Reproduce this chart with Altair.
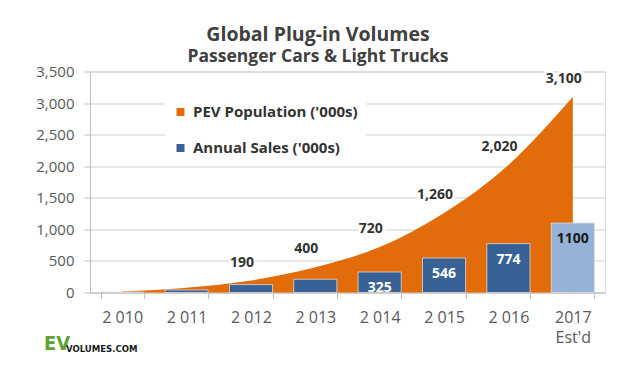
import altair as alt
import pandas as pd

# ---- data ----
years = ["2 010", "2 011", "2 012", "2 013", "2 014", "2 015", "2 016", "2017\nEst'd"]
pev_population = [15, 75, 190, 400, 720, 1260, 2020, 3100]
annual_sales = [7, 40, 125, 210, 325, 546, 774, 1100]
estimated = [False, False, False, False, False, False, False, True]

pev_name = "PEV Population ('000s)"
sales_name = "Annual Sales ('000s)"

df = pd.DataFrame({
    "year": years,
    "pev": pev_population,
    "sales": annual_sales,
    "est": estimated,
    "pev_series": [pev_name] * len(years),
    "sales_series": [sales_name] * len(years),
})

ORANGE = "#E36C0A"
BLUE = "#386196"
LIGHT_BLUE = "#95B3D7"
FONT = "Open Sans"
LOGO_FONT = "DejaVu Sans Condensed, Liberation Sans, sans-serif"

color_scale = alt.Scale(domain=[pev_name, sales_name], range=[ORANGE, BLUE])
legend = alt.Legend(
    orient="none", legendX=75, legendY=25, title=None,
    symbolType="square", symbolSize=64, symbolStrokeWidth=0,
    labelFont=FONT, labelFontSize=15, labelFontWeight="bold", labelColor="#333333",
    fillColor="white", padding=8, rowPadding=20, labelOffset=5, labelLimit=400,
)

x_axis = alt.Axis(
    title=None, labelAngle=0, tickBand="extent", grid=False,
    labelFont=FONT, labelFontSize=16, labelColor="#595959", labelPadding=11,
    labelExpr="split(datum.label, '\\n')", labelLineHeight=19.5,
    tickSize=6, tickColor="#bfbfbf", domainColor="#bfbfbf",
)
x_scale = alt.Scale(paddingInner=0.33, paddingOuter=0.165)
y_axis = alt.Axis(
    title=None, values=list(range(0, 3501, 500)), format=",.0f",
    labelFont=FONT, labelFontSize=15, labelColor="#595959", labelPadding=10,
    tickSize=6, tickColor="#bfbfbf", domainColor="#bfbfbf", gridColor="#d0d0d0",
)
y_scale = alt.Scale(domain=[0, 3500])

base = alt.Chart(df)

area = base.mark_area(interpolate="monotone").encode(
    x=alt.X("year:N", sort=years, scale=x_scale, axis=x_axis, bandPosition=0.5),
    y=alt.Y("pev:Q", scale=y_scale, axis=y_axis),
    color=alt.Color("pev_series:N", scale=color_scale, legend=legend),
)

bars = base.mark_bar(stroke="#dcdcdc", strokeWidth=0.8).encode(
    x=alt.X("year:N", sort=years, scale=x_scale, axis=x_axis),
    y=alt.Y("sales:Q", scale=y_scale, axis=y_axis),
    color=alt.condition("datum.est", alt.value(LIGHT_BLUE),
                        alt.Color("sales_series:N", scale=color_scale, legend=legend)),
)

pop_text_kwargs = dict(dx=-9, dy=-18, fontSize=14, fontWeight="bold", font=FONT,
                       baseline="middle", align="center")
pop_enc = dict(
    x=alt.X("year:N", sort=years, scale=x_scale, axis=x_axis, bandPosition=0.5),
    y=alt.Y("pev:Q", scale=y_scale, axis=y_axis),
    text=alt.Text("pev:Q", format=",.0f"),
)
pop_halo = base.transform_filter("datum.pev >= 150").mark_text(
    stroke="white", strokeWidth=6, strokeJoin="round", color="white", **pop_text_kwargs
).encode(**pop_enc)
pop_labels = base.transform_filter("datum.pev >= 150").mark_text(
    color="#333333", **pop_text_kwargs
).encode(**pop_enc)

bar_labels = base.transform_filter("datum.sales >= 300").mark_text(
    dy=16, fontSize=14, fontWeight="bold", font=FONT, baseline="middle", align="center"
).encode(
    x=alt.X("year:N", sort=years, scale=x_scale, axis=x_axis),
    y=alt.Y("sales:Q", scale=y_scale, axis=y_axis),
    text=alt.Text("sales:Q", format="d"),
    color=alt.condition("datum.est", alt.value("#1a1a1a"), alt.value("white")),
)

logo_ev = alt.Chart(pd.DataFrame({"t": ["EV"]})).mark_text(
    font=LOGO_FONT, fontSize=20, fontWeight="bold", color="#5FA332",
    align="left", baseline="middle"
).encode(x=alt.value(-46), y=alt.value(272), text="t:N")
logo_rest = alt.Chart(pd.DataFrame({"t": ["VOLUMES.COM"]})).mark_text(
    font=LOGO_FONT, fontSize=9.5, fontWeight="bold", color="#1a1a1a",
    align="left", baseline="middle"
).encode(x=alt.value(-24), y=alt.value(277.5), text="t:N")

chart = alt.layer(area, bars, pop_halo, pop_labels, bar_labels, logo_ev, logo_rest).properties(
    width=515, height=221,
    title=alt.TitleParams(
        text="Global Plug-in Volumes", subtitle="Passenger Cars & Light Trucks",
        font=FONT, fontSize=19.5, fontWeight="bold", color="#404040",
        subtitleFont=FONT, subtitleFontSize=17.5, subtitleFontWeight="bold",
        subtitleColor="#404040", subtitlePadding=3, anchor="middle", dx=-29.5, dy=2, offset=0,
    ),
    autosize=alt.AutoSizeParams(type="none"),
    padding={"left": 82, "top": 63.5, "right": 20, "bottom": 62},
).configure_view(stroke=None).configure(background="white")

chart.save("out.html", embed_options={"renderer": "svg", "actions": False})
